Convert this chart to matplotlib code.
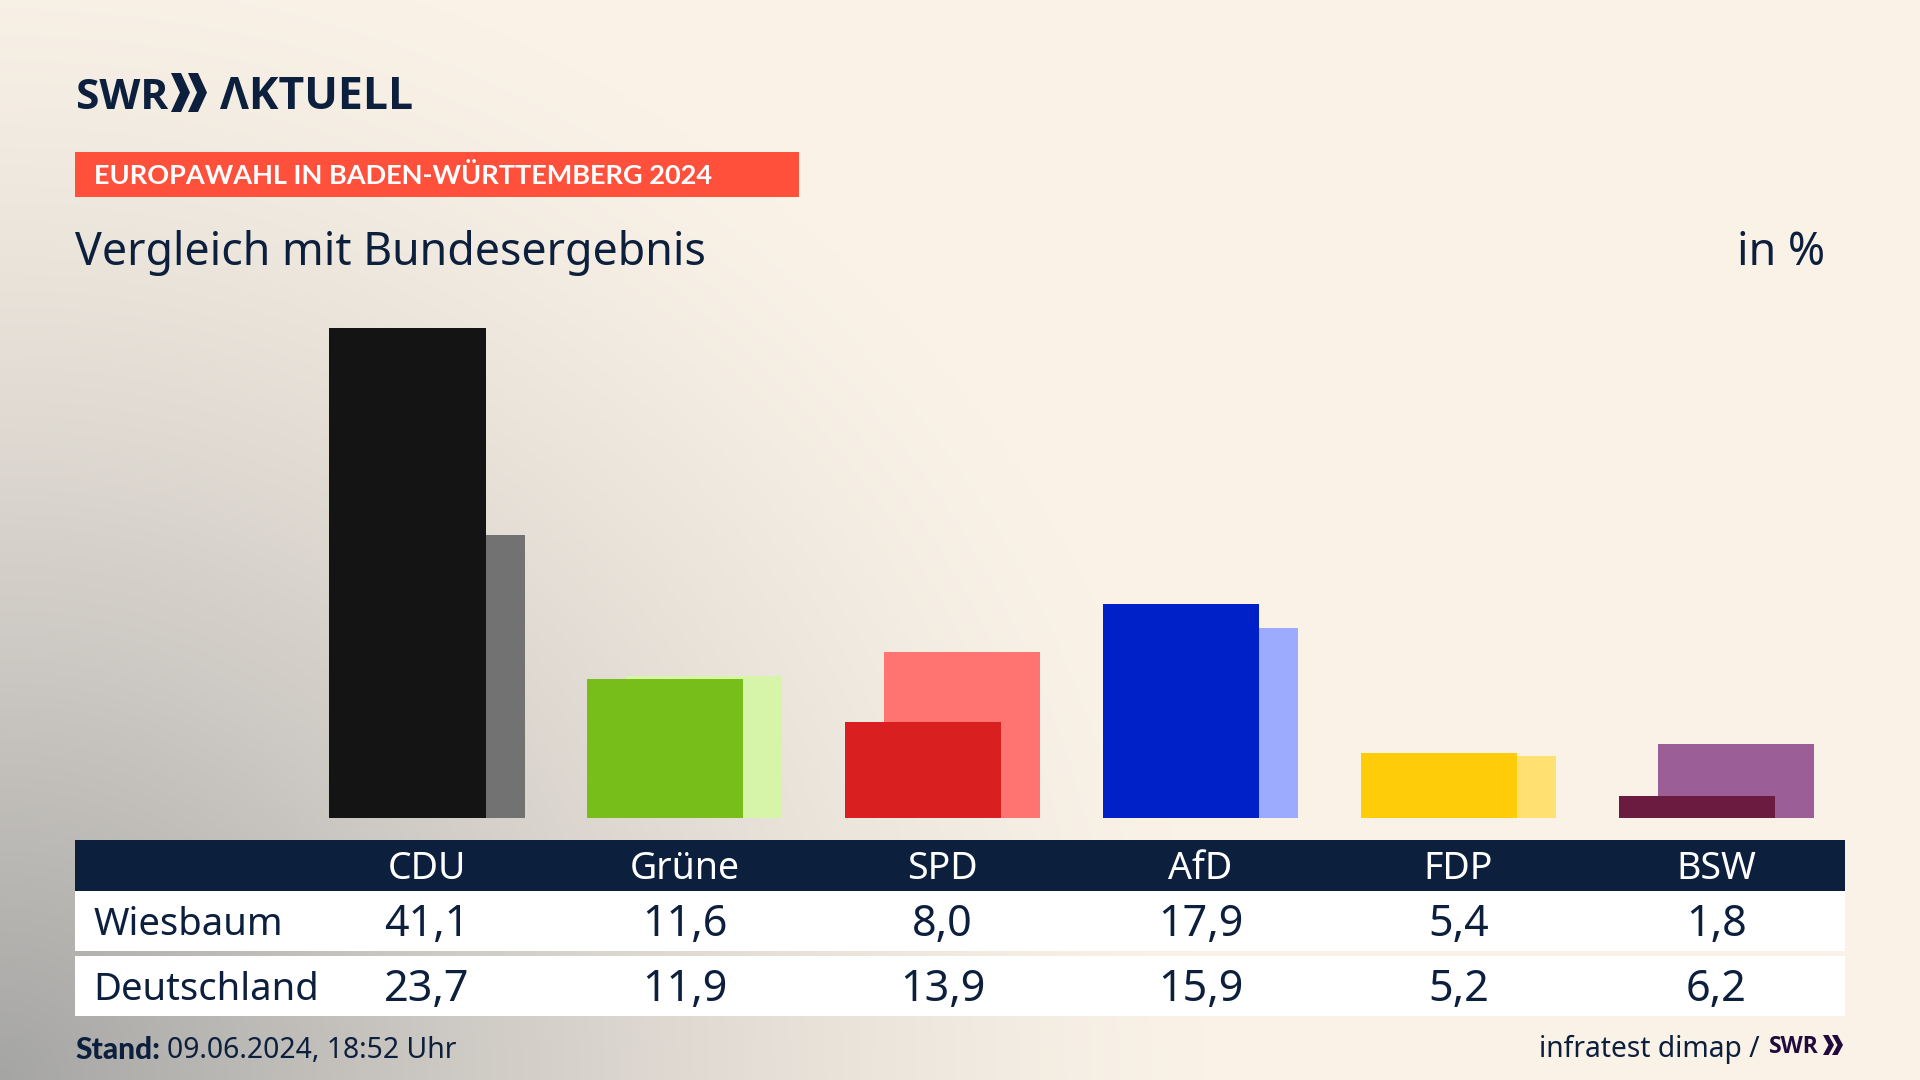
import numpy as np
import matplotlib
matplotlib.use("Agg")
import matplotlib.pyplot as plt
from matplotlib.patches import Rectangle, Polygon

parties = ["CDU", "Grüne", "SPD", "AfD", "FDP", "BSW"]
wiesbaum = [41.1, 11.6, 8.0, 17.9, 5.4, 1.8]
deutschland = [23.7, 11.9, 13.9, 15.9, 5.2, 6.2]
front_colors = ["#141414", "#78BE1A", "#D91F1F", "#0020C8", "#FFCC0A", "#6B1A40"]
back_colors = ["#737272", "#D6F5A8", "#FF7370", "#9DABFF", "#FFE070", "#9B5E96"]
row_labels = ["Wiesbaum", "Deutschland"]

NAVY = "#0C1F3D"
FONT = "Noto Sans"
BOLD = "Lato"
LOGOFONT = ["Open Sans", "Noto Sans"]
plt.rcParams["font.family"] = [FONT, "DejaVu Sans"]

W, H = 1920, 1080
fig = plt.figure(figsize=(19.2, 10.8), dpi=100)

bg = fig.add_axes([0, 0, 1, 1], zorder=0)
bg.set_xlim(0, W); bg.set_ylim(H, 0); bg.axis("off")
yy, xx = np.mgrid[0:H:270j, 0:W:480j]
d = np.sqrt((xx / 1200) ** 2 + ((H - yy) / 1150) ** 2)
t = np.clip(1 - d, 0, 1) ** 1.35
cream = np.array([250, 242, 231]) / 255
grey = np.array([165, 165, 164]) / 255
img = cream[None, None, :] * (1 - t[..., None]) + grey[None, None, :] * t[..., None]
bg.imshow(img, extent=[0, W, H, 0], aspect="auto", interpolation="bilinear", zorder=0)
bg.set_xlim(0, W); bg.set_ylim(H, 0)

# banner
bg.add_patch(Rectangle((75, 152), 724, 45, color="#FF503C", lw=0, zorder=1))
bg.text(94, 175.5, "EUROPAWAHL IN BADEN-WÜRTTEMBERG 2024", color="white", fontsize=19.5,
        family=BOLD, fontweight="bold", va="center", ha="left", zorder=2)

# logo
def chevron(x0, yc, w, h, thick, color):
    bg.add_patch(Polygon([(x0, yc - h / 2), (x0 + thick, yc - h / 2), (x0 + w, yc),
                          (x0 + thick, yc + h / 2), (x0, yc + h / 2), (x0 + w - thick, yc)],
                         closed=True, color=color, lw=0, zorder=2))
bg.text(76, 109, "SWR", color=NAVY, fontsize=30.5, family=LOGOFONT, fontweight="bold", va="baseline", ha="left", zorder=2)
chevron(171, 92.5, 19, 39, 10, NAVY)
chevron(188, 92.5, 19, 39, 10, NAVY)
bg.text(220, 109, "ΛKTUELL", color=NAVY, fontsize=32, family=LOGOFONT, fontweight="bold", va="baseline", ha="left", zorder=2)

# title
bg.text(75, 253, "Vergleich mit Bundesergebnis", color=NAVY, fontsize=32.2, va="center", ha="left", zorder=2)
bg.text(1825, 253, "in %", color=NAVY, fontsize=32.2, va="center", ha="right", zorder=2)

# table
bg.add_patch(Rectangle((75, 840), 1770, 51, color=NAVY, lw=0, zorder=1))
bg.add_patch(Rectangle((75, 891), 1770, 60, color="white", lw=0, zorder=1))
bg.add_patch(Rectangle((75, 956), 1770, 60, color="white", lw=0, zorder=1))
col_x = [426.5 + 258 * i for i in range(len(parties))]
for x, p, a, b in zip(col_x, parties, wiesbaum, deutschland):
    bg.text(x, 869, p, color="white", fontsize=27, ha="center", va="center", zorder=2)
    bg.text(x, 925, f"{a:.1f}".replace(".", ","), color=NAVY, fontsize=31, ha="center", va="center", zorder=2)
    bg.text(x, 990, f"{b:.1f}".replace(".", ","), color=NAVY, fontsize=31, ha="center", va="center", zorder=2)
bg.text(94, 925, row_labels[0], color=NAVY, fontsize=27.5, ha="left", va="center", zorder=2)
bg.text(93, 990, row_labels[1], color=NAVY, fontsize=27.5, ha="left", va="center", zorder=2)

# footer
bg.text(75, 1050, "Stand:", color=NAVY, fontsize=21.5, family=BOLD, fontweight="black", ha="left", va="center", zorder=2)
bg.text(167, 1050, "09.06.2024, 18:52 Uhr", color=NAVY, fontsize=20.4, ha="left", va="center", zorder=2)
bg.text(1760, 1049, "infratest dimap /", color=NAVY, fontsize=20.3, ha="right", va="center", zorder=2)
LOGO2 = "#220A3C"
bg.text(1769, 1053, "SWR", color=LOGO2, fontsize=16.5, family=LOGOFONT, fontweight="bold", ha="left", va="baseline", zorder=2)
chevron(1823, 1045, 11, 20, 5.5, LOGO2)
chevron(1832, 1045, 11, 20, 5.5, LOGO2)

# bars on their own axes
BASE, TOP = 817.7, 270
SPACING = 257.95
ax = fig.add_axes([75 / W, 1 - BASE / H, 1770 / W, (BASE - TOP) / H], zorder=1)
ax.patch.set_alpha(0)
ctr = 426.5
ax.set_xlim((75 - ctr) / SPACING, (1845 - ctr) / SPACING)
ax.set_ylim(0, (BASE - TOP) / 11.92)
ax.axis("off")
x = np.arange(len(parties))
bw = 156.52 / SPACING
off = 19.5 / SPACING
shift = 0.26 / SPACING
ax.bar(x + off + shift, deutschland, width=bw, color=back_colors, lw=0, zorder=1)
ax.bar(x - off + shift, wiesbaum, width=bw, color=front_colors, lw=0, zorder=2)

fig.savefig("out.png", dpi=100)
